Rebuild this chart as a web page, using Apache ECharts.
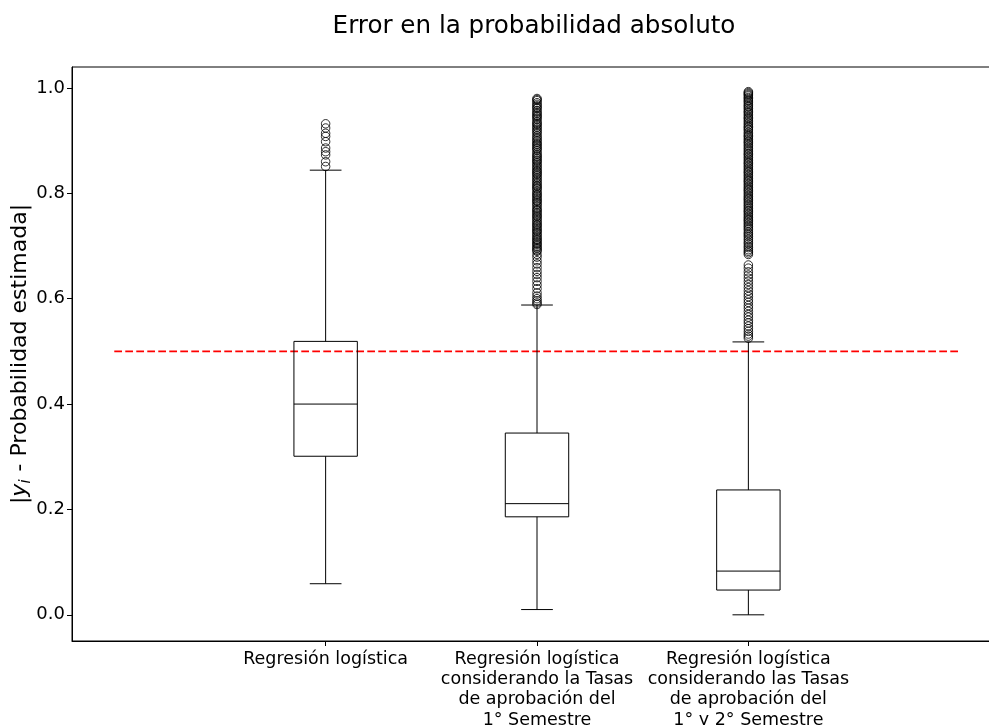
<!DOCTYPE html>
<html>
<head>
<meta charset="utf-8">
<script src="https://cdn.jsdelivr.net/npm/echarts@6/dist/echarts.min.js"></script>
<style>
  html, body { margin: 0; padding: 0; background: #fff; overflow: hidden; }
  #chart { width: 989px; height: 725px; }
</style>
</head>
<body>
<div id="chart"></div>
<script>
// Model names shown under each box
const categories = [
  'Regresión logística',
  'Regresión logística\nconsiderando la Tasas\nde aprobación del\n1° Semestre',
  'Regresión logística\nconsiderando las Tasas\nde aprobación del\n1° y 2° Semestre'
];
const positions = [1, 2, 3];

// Box statistics of |y_i - estimated probability| per model
const whiskerLow  = [0.059, 0.010, 0.000];
const q1          = [0.301, 0.186, 0.047];
const median      = [0.400, 0.211, 0.083];
const q3          = [0.519, 0.345, 0.237];
const whiskerHigh = [0.844, 0.588, 0.518];

// Points beyond the upper whisker
const outliers1 = [0.932, 0.924, 0.914, 0.908, 0.898, 0.886, 0.879, 0.873, 0.860, 0.851];
const outliers2 = [0.980, 0.976, 0.972, 0.966, 0.961, 0.957, 0.951, 0.946, 0.940, 0.936,
  0.931, 0.925, 0.919, 0.913, 0.909, 0.903, 0.897, 0.892, 0.886, 0.881, 0.874, 0.869,
  0.863, 0.858, 0.852, 0.846, 0.841, 0.836, 0.830, 0.824, 0.818, 0.813, 0.808, 0.801,
  0.796, 0.790, 0.785, 0.779, 0.772, 0.767, 0.761, 0.756, 0.750, 0.744, 0.739, 0.733,
  0.728, 0.722, 0.716, 0.711, 0.705, 0.700, 0.695, 0.690, 0.684, 0.679, 0.672, 0.666,
  0.659, 0.652, 0.646, 0.640, 0.633, 0.626, 0.619, 0.611, 0.605, 0.600, 0.596, 0.592, 0.589,
  0.978, 0.969, 0.963, 0.954, 0.948, 0.943, 0.933, 0.928, 0.922, 0.916, 0.906, 0.900,
  0.894, 0.889, 0.884, 0.877, 0.871, 0.866, 0.861, 0.855, 0.849, 0.843, 0.838, 0.833,
  0.827, 0.821, 0.815, 0.810, 0.804, 0.798, 0.793, 0.787, 0.782, 0.776, 0.769, 0.764,
  0.758, 0.753, 0.747, 0.741, 0.736, 0.730, 0.725, 0.719, 0.713, 0.708, 0.703, 0.697, 0.692];
const outliers3 = [0.993, 0.989, 0.985, 0.980, 0.975, 0.969, 0.964, 0.958, 0.953, 0.947,
  0.942, 0.936, 0.930, 0.925, 0.920, 0.913, 0.908, 0.902, 0.897, 0.891, 0.885, 0.879,
  0.874, 0.868, 0.862, 0.857, 0.851, 0.845, 0.840, 0.834, 0.828, 0.823, 0.817, 0.811,
  0.806, 0.800, 0.794, 0.789, 0.783, 0.777, 0.771, 0.766, 0.760, 0.754, 0.749, 0.743,
  0.737, 0.731, 0.724, 0.718, 0.711, 0.704, 0.697, 0.690, 0.684,
  0.664, 0.658, 0.651, 0.645, 0.639, 0.633, 0.627, 0.621, 0.615, 0.609, 0.604, 0.598,
  0.593, 0.587, 0.582, 0.576, 0.570, 0.565, 0.559, 0.554, 0.548, 0.543, 0.538, 0.533,
  0.529, 0.525,
  0.991, 0.987, 0.982, 0.977, 0.972, 0.966, 0.961, 0.955, 0.950, 0.944, 0.939, 0.933,
  0.927, 0.922, 0.916, 0.910, 0.905, 0.899, 0.894, 0.888, 0.882, 0.876, 0.871, 0.865,
  0.859, 0.854, 0.848, 0.842, 0.837, 0.831, 0.825, 0.820, 0.814, 0.808, 0.803, 0.797,
  0.791, 0.786, 0.780, 0.774, 0.768, 0.763, 0.757, 0.751, 0.746, 0.740, 0.734, 0.727,
  0.721, 0.714, 0.707, 0.700, 0.693, 0.687];

// Reference threshold
const thresholdValue = 0.5;
const thresholdSpan = [0, 4];

// Y ticks
const yTicks = [0.0, 0.2, 0.4, 0.6, 0.8, 1.0];

const BOX_WIDTH = 0.3;
const FONT = 'DejaVu Sans';

const boxData = positions.map((p, i) => [p, whiskerLow[i], q1[i], median[i], q3[i], whiskerHigh[i]]);
const outlierData = [];
[outliers1, outliers2, outliers3].forEach((arr, i) => {
  arr.forEach(v => outlierData.push([positions[i], v]));
});

function renderBox(params, api) {
  const x = api.value(0);
  const pLow = api.coord([x, api.value(1)]);
  const pQ1 = api.coord([x, api.value(2)]);
  const pMed = api.coord([x, api.value(3)]);
  const pQ3 = api.coord([x, api.value(4)]);
  const pHigh = api.coord([x, api.value(5)]);
  const halfBox = api.size([BOX_WIDTH, 0])[0] / 2;
  const halfCap = halfBox / 2;
  const cx = pMed[0];
  const style = { stroke: '#000', lineWidth: 1, fill: null };
  const line = (x1, y1, x2, y2) => ({
    type: 'line',
    shape: { x1, y1, x2, y2 },
    style
  });
  return {
    type: 'group',
    children: [
      {
        type: 'rect',
        shape: { x: cx - halfBox, y: pQ3[1], width: halfBox * 2, height: pQ1[1] - pQ3[1] },
        style: { stroke: '#000', lineWidth: 1, fill: 'none' }
      },
      line(cx - halfBox, pMed[1], cx + halfBox, pMed[1]),
      line(cx, pQ3[1], cx, pHigh[1]),
      line(cx, pQ1[1], cx, pLow[1]),
      line(cx - halfCap, pHigh[1], cx + halfCap, pHigh[1]),
      line(cx - halfCap, pLow[1], cx + halfCap, pLow[1])
    ]
  };
}

const chart = echarts.init(document.getElementById('chart'), null, { renderer: 'canvas' });
chart.setOption({
  animation: false,
  backgroundColor: '#fff',
  textStyle: { fontFamily: FONT, color: '#000' },
  title: {
    text: 'Error en la probabilidad absoluto',
    left: 529,
    top: 9,
    textAlign: 'center',
    textStyle: { fontFamily: FONT, fontSize: 24.6, fontWeight: 'normal', color: '#000' }
  },
  grid: {
    left: 72,
    top: 67,
    right: -13,
    bottom: 84,
    show: true,
    borderColor: '#000',
    borderWidth: 1,
    backgroundColor: 'transparent',
    containLabel: false,
    outerBoundsMode: 'none'
  },
  xAxis: {
    type: 'value',
    min: -0.2,
    max: 4.2,
    splitLine: { show: false },
    axisLine: { show: true, onZero: false, lineStyle: { color: '#000', width: 1 } },
    axisTick: { show: true, length: 5, lineStyle: { color: '#000' }, customValues: positions },
    axisLabel: {
      show: true,
      customValues: positions,
      margin: 8,
      fontSize: 17.5,
      lineHeight: 20.3,
      fontFamily: FONT,
      color: '#000',
      align: 'center',
      formatter: v => categories[positions.indexOf(v)] || ''
    }
  },
  yAxis: {
    type: 'value',
    min: -0.0497,
    max: 1.0398,
    splitLine: { show: false },
    axisLine: { show: true, onZero: false, lineStyle: { color: '#000', width: 1 } },
    axisTick: { show: true, length: 5, lineStyle: { color: '#000' }, customValues: yTicks },
    axisLabel: {
      customValues: yTicks,
      margin: 7,
      fontSize: 18,
      fontFamily: FONT,
      color: '#000',
      formatter: v => v.toFixed(1)
    },
    name: '{bar||}{yi|y}{sub|i}{txt| - Probabilidad estimada|}',
    nameLocation: 'middle',
    nameGap: 38,
    nameRotate: 90,
    nameMoveOverlap: false,
    nameTextStyle: {
      fontFamily: FONT,
      fontSize: 22,
      color: '#000',
      rich: {
        bar: { fontFamily: FONT, fontSize: 22, color: '#000', lineHeight: 28, verticalAlign: 'middle' },
        yi: { fontFamily: FONT, fontSize: 22, fontStyle: 'italic', color: '#000', lineHeight: 28, verticalAlign: 'middle' },
        sub: { fontFamily: FONT, fontSize: 15, fontStyle: 'italic', color: '#000', lineHeight: 28, verticalAlign: 'bottom', padding: [0, 1, 0, 0] },
        txt: { fontFamily: FONT, fontSize: 22, color: '#000', lineHeight: 28, verticalAlign: 'middle' }
      }
    }
  },
  series: [
    {
      name: 'threshold',
      type: 'line',
      data: thresholdSpan.map(x => [x, thresholdValue]),
      symbol: 'none',
      silent: true,
      lineStyle: { color: '#ff0000', width: 1.6, type: [7.7, 3.3] },
      z: 1
    },
    {
      name: 'boxes',
      type: 'custom',
      data: boxData,
      renderItem: renderBox,
      encode: { x: 0, y: [1, 2, 3, 4, 5] },
      z: 2
    },
    {
      name: 'outliers',
      type: 'scatter',
      data: outlierData,
      symbol: 'circle',
      symbolSize: 8.5,
      itemStyle: { color: 'rgba(0,0,0,0)', borderColor: '#000', borderWidth: 1 },
      z: 3
    }
  ]
});
</script>
</body>
</html>
